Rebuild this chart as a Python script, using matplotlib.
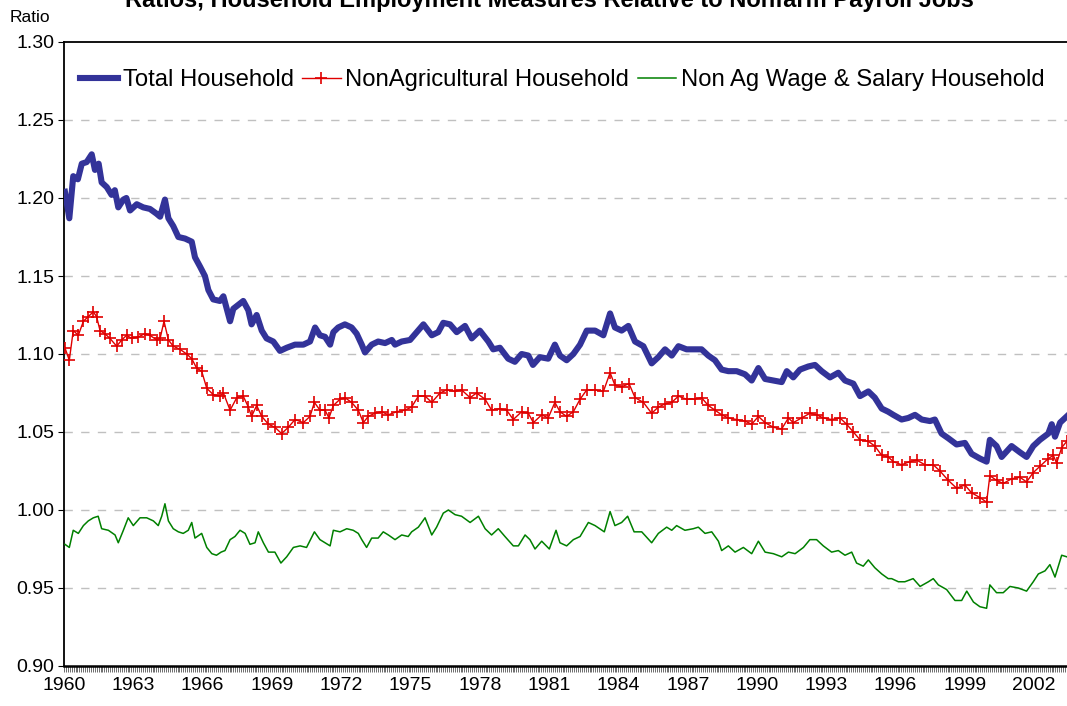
import matplotlib
matplotlib.use("Agg")
import matplotlib.pyplot as plt
from matplotlib.ticker import MultipleLocator, FixedLocator

plt.rcParams['font.family'] = ['Liberation Sans', 'DejaVu Sans']

# Total Household / Nonfarm payroll
total_dates = [1960.04, 1960.23, 1960.40, 1960.60, 1960.77, 1960.98, 1961.20, 1961.34, 1961.50, 1961.63,
               1961.85, 1962.06, 1962.20, 1962.35, 1962.57, 1962.70, 1962.86, 1963.15, 1963.43, 1963.72,
               1964.00, 1964.16, 1964.37, 1964.52, 1964.73, 1964.95, 1965.24, 1965.53, 1965.67, 1965.89,
               1966.10, 1966.25, 1966.46, 1966.75, 1966.90, 1967.19, 1967.33, 1967.76, 1967.98, 1968.12,
               1968.34, 1968.56, 1968.77, 1969.06, 1969.35, 1969.64, 1970.00, 1970.36, 1970.65, 1970.87,
               1971.08, 1971.30, 1971.52, 1971.66, 1971.87, 1972.16, 1972.45, 1972.67, 1972.89, 1973.03,
               1973.32, 1973.60, 1973.90, 1974.19, 1974.33, 1974.62, 1974.98, 1975.27, 1975.56, 1975.92,
               1976.20, 1976.42, 1976.71, 1977.00, 1977.36, 1977.65, 1978.00, 1978.37, 1978.58, 1978.87,
               1979.23, 1979.52, 1979.81, 1980.10, 1980.30, 1980.60, 1980.96, 1981.25, 1981.47, 1981.76,
               1982.05, 1982.34, 1982.63, 1982.99, 1983.35, 1983.64, 1983.85, 1984.14, 1984.43, 1984.72,
               1985.08, 1985.44, 1985.73, 1986.02, 1986.31, 1986.60, 1986.95, 1987.30, 1987.60, 1987.89,
               1988.18, 1988.47, 1988.76, 1989.12, 1989.48, 1989.77, 1990.06, 1990.35, 1990.71, 1991.07,
               1991.29, 1991.57, 1991.86, 1992.22, 1992.51, 1992.80, 1993.16, 1993.52, 1993.81, 1994.17,
               1994.46, 1994.82, 1995.10, 1995.40, 1995.68, 1995.90, 1996.26, 1996.55, 1996.84, 1997.13,
               1997.49, 1997.70, 1997.99, 1998.28, 1998.64, 1999.00, 1999.29, 1999.65, 1999.94, 2000.08,
               2000.37, 2000.59, 2001.02, 2001.38, 2001.67, 2001.96, 2002.25, 2002.61, 2002.76, 2002.90,
               2003.12, 2003.41]
total_vals = [1.204, 1.187, 1.214, 1.212, 1.222, 1.223, 1.228, 1.218, 1.222, 1.210,
              1.207, 1.202, 1.205, 1.194, 1.199, 1.200, 1.192, 1.196, 1.194, 1.193,
              1.190, 1.188, 1.199, 1.187, 1.182, 1.175, 1.174, 1.172, 1.162, 1.156,
              1.150, 1.141, 1.135, 1.134, 1.137, 1.121, 1.129, 1.134, 1.128, 1.119,
              1.125, 1.115, 1.110, 1.108, 1.102, 1.104, 1.106, 1.106, 1.108, 1.117,
              1.112, 1.111, 1.106, 1.114, 1.117, 1.119, 1.117, 1.113, 1.106, 1.101,
              1.106, 1.108, 1.107, 1.109, 1.106, 1.108, 1.109, 1.114, 1.119, 1.112,
              1.114, 1.120, 1.119, 1.114, 1.118, 1.110, 1.115, 1.108, 1.103, 1.104,
              1.097, 1.095, 1.100, 1.099, 1.093, 1.098, 1.097, 1.106, 1.099, 1.096,
              1.100, 1.106, 1.115, 1.115, 1.112, 1.126, 1.117, 1.115, 1.118, 1.108,
              1.105, 1.094, 1.098, 1.103, 1.099, 1.105, 1.103, 1.103, 1.103, 1.099,
              1.096, 1.090, 1.089, 1.089, 1.087, 1.083, 1.091, 1.084, 1.083, 1.082,
              1.089, 1.085, 1.090, 1.092, 1.093, 1.089, 1.085, 1.088, 1.083, 1.081,
              1.073, 1.076, 1.072, 1.065, 1.063, 1.061, 1.058, 1.059, 1.061, 1.058,
              1.057, 1.058, 1.049, 1.046, 1.042, 1.043, 1.036, 1.033, 1.031, 1.045,
              1.041, 1.034, 1.041, 1.037, 1.034, 1.041, 1.045, 1.049, 1.055, 1.047,
              1.056, 1.060]

# NonAgricultural Household / Nonfarm payroll
nonag_dates = [1960.04, 1960.23, 1960.40, 1960.62, 1960.84, 1961.05, 1961.27, 1961.41, 1961.56, 1961.77,
               1961.99, 1962.28, 1962.50, 1962.71, 1962.93, 1963.22, 1963.50, 1963.72, 1964.01, 1964.16,
               1964.33, 1964.52, 1964.73, 1965.02, 1965.31, 1965.53, 1965.74, 1965.96, 1966.18, 1966.46,
               1966.75, 1966.90, 1967.19, 1967.48, 1967.76, 1967.98, 1968.12, 1968.34, 1968.56, 1968.85,
               1969.13, 1969.42, 1969.71, 1970.00, 1970.36, 1970.65, 1970.84, 1971.08, 1971.30, 1971.47,
               1971.66, 1971.95, 1972.16, 1972.45, 1972.74, 1972.96, 1973.17, 1973.46, 1973.75, 1974.04,
               1974.40, 1974.76, 1975.05, 1975.34, 1975.63, 1975.92, 1976.28, 1976.57, 1976.93, 1977.21,
               1977.58, 1977.86, 1978.23, 1978.51, 1978.87, 1979.16, 1979.45, 1979.81, 1980.10, 1980.32,
               1980.68, 1980.96, 1981.25, 1981.47, 1981.76, 1982.05, 1982.34, 1982.63, 1982.99, 1983.35,
               1983.64, 1983.85, 1984.14, 1984.46, 1984.72, 1985.08, 1985.44, 1985.73, 1986.02, 1986.31,
               1986.60, 1986.95, 1987.30, 1987.60, 1987.89, 1988.18, 1988.47, 1988.76, 1989.12, 1989.48,
               1989.77, 1990.06, 1990.35, 1990.71, 1991.07, 1991.36, 1991.57, 1991.93, 1992.29, 1992.58,
               1992.87, 1993.23, 1993.59, 1993.88, 1994.17, 1994.46, 1994.82, 1995.10, 1995.40, 1995.68,
               1995.90, 1996.26, 1996.62, 1996.91, 1997.27, 1997.63, 1997.92, 1998.28, 1998.64, 1999.00,
               1999.29, 1999.65, 1999.94, 2000.08, 2000.37, 2000.66, 2001.02, 2001.38, 2001.67, 2001.96,
               2002.25, 2002.61, 2002.83, 2002.97, 2003.19, 2003.41]
nonag_vals = [1.104, 1.096, 1.115, 1.112, 1.121, 1.124, 1.127, 1.124, 1.115, 1.113,
              1.110, 1.105, 1.109, 1.112, 1.110, 1.111, 1.113, 1.112, 1.109, 1.110,
              1.121, 1.109, 1.105, 1.103, 1.100, 1.097, 1.091, 1.089, 1.078, 1.074,
              1.073, 1.075, 1.064, 1.072, 1.073, 1.066, 1.060, 1.067, 1.060, 1.055,
              1.053, 1.049, 1.053, 1.058, 1.056, 1.060, 1.069, 1.064, 1.064, 1.059,
              1.067, 1.071, 1.072, 1.069, 1.064, 1.056, 1.060, 1.062, 1.063, 1.061,
              1.063, 1.064, 1.066, 1.073, 1.073, 1.069, 1.075, 1.077, 1.076, 1.077,
              1.072, 1.075, 1.071, 1.064, 1.065, 1.064, 1.058, 1.063, 1.062, 1.056,
              1.061, 1.059, 1.069, 1.063, 1.060, 1.063, 1.071, 1.077, 1.077, 1.076,
              1.088, 1.080, 1.079, 1.081, 1.072, 1.069, 1.062, 1.066, 1.068, 1.069,
              1.073, 1.071, 1.071, 1.072, 1.067, 1.064, 1.061, 1.059, 1.058, 1.057,
              1.055, 1.060, 1.056, 1.053, 1.052, 1.059, 1.056, 1.059, 1.062, 1.061,
              1.059, 1.058, 1.059, 1.055, 1.050, 1.045, 1.044, 1.041, 1.035, 1.034,
              1.031, 1.029, 1.031, 1.032, 1.029, 1.029, 1.025, 1.019, 1.014, 1.016,
              1.011, 1.008, 1.005, 1.022, 1.019, 1.017, 1.020, 1.021, 1.018, 1.024,
              1.028, 1.033, 1.035, 1.030, 1.040, 1.044]

# Non Ag Wage & Salary Household / Nonfarm payroll
wage_dates = [1960.04, 1960.23, 1960.40, 1960.62, 1960.84, 1961.05, 1961.27, 1961.48, 1961.63, 1961.92,
              1962.21, 1962.35, 1962.57, 1962.78, 1963.00, 1963.29, 1963.58, 1963.87, 1964.08, 1964.23,
              1964.37, 1964.52, 1964.73, 1964.95, 1965.16, 1965.38, 1965.53, 1965.67, 1965.96, 1966.18,
              1966.40, 1966.60, 1966.80, 1966.97, 1967.19, 1967.40, 1967.62, 1967.84, 1968.05, 1968.27,
              1968.41, 1968.63, 1968.85, 1969.13, 1969.39, 1969.64, 1969.93, 1970.22, 1970.50, 1970.84,
              1971.08, 1971.30, 1971.52, 1971.66, 1971.95, 1972.24, 1972.52, 1972.74, 1972.89, 1973.10,
              1973.32, 1973.60, 1973.82, 1974.04, 1974.33, 1974.62, 1974.90, 1975.05, 1975.34, 1975.63,
              1975.92, 1976.13, 1976.42, 1976.64, 1976.93, 1977.21, 1977.58, 1977.94, 1978.23, 1978.51,
              1978.80, 1979.09, 1979.45, 1979.67, 1979.96, 1980.17, 1980.39, 1980.68, 1981.01, 1981.30,
              1981.47, 1981.76, 1982.05, 1982.34, 1982.70, 1982.99, 1983.39, 1983.64, 1983.85, 1984.14,
              1984.40, 1984.68, 1985.01, 1985.44, 1985.73, 1986.09, 1986.31, 1986.52, 1986.88, 1987.24,
              1987.46, 1987.75, 1988.04, 1988.33, 1988.47, 1988.76, 1989.05, 1989.41, 1989.77, 1990.06,
              1990.35, 1990.71, 1991.07, 1991.36, 1991.65, 1992.01, 1992.29, 1992.58, 1992.87, 1993.23,
              1993.52, 1993.81, 1994.10, 1994.31, 1994.60, 1994.82, 1995.10, 1995.40, 1995.68, 1995.83,
              1996.12, 1996.40, 1996.76, 1997.06, 1997.42, 1997.63, 1997.85, 1998.21, 1998.57, 1998.86,
              1999.08, 1999.37, 1999.65, 1999.94, 2000.08, 2000.37, 2000.66, 2000.95, 2001.31, 2001.67,
              2001.96, 2002.18, 2002.47, 2002.68, 2002.90, 2003.19, 2003.41]
wage_vals = [0.978, 0.976, 0.987, 0.985, 0.990, 0.993, 0.995, 0.996, 0.988, 0.987,
             0.984, 0.979, 0.987, 0.995, 0.990, 0.995, 0.995, 0.993, 0.990, 0.996,
             1.004, 0.993, 0.988, 0.986, 0.985, 0.987, 0.992, 0.982, 0.985, 0.976,
             0.972, 0.971, 0.973, 0.974, 0.981, 0.983, 0.987, 0.985, 0.978, 0.979,
             0.986, 0.979, 0.973, 0.973, 0.966, 0.970, 0.976, 0.977, 0.976, 0.986,
             0.981, 0.979, 0.977, 0.987, 0.986, 0.988, 0.987, 0.985, 0.981, 0.976,
             0.982, 0.982, 0.986, 0.984, 0.981, 0.984, 0.983, 0.986, 0.989, 0.995,
             0.984, 0.989, 0.998, 1.000, 0.997, 0.996, 0.992, 0.996, 0.988, 0.984,
             0.988, 0.983, 0.977, 0.977, 0.984, 0.981, 0.975, 0.980, 0.975, 0.987,
             0.979, 0.977, 0.981, 0.983, 0.992, 0.990, 0.986, 0.999, 0.990, 0.992,
             0.996, 0.986, 0.986, 0.979, 0.985, 0.989, 0.987, 0.990, 0.987, 0.988,
             0.989, 0.985, 0.986, 0.980, 0.974, 0.977, 0.973, 0.976, 0.972, 0.980,
             0.973, 0.972, 0.970, 0.973, 0.972, 0.976, 0.981, 0.981, 0.977, 0.973,
             0.974, 0.971, 0.973, 0.966, 0.964, 0.968, 0.963, 0.959, 0.956, 0.956,
             0.954, 0.954, 0.956, 0.951, 0.954, 0.956, 0.952, 0.949, 0.942, 0.942,
             0.948, 0.941, 0.938, 0.937, 0.952, 0.947, 0.947, 0.951, 0.950, 0.948,
             0.954, 0.959, 0.961, 0.965, 0.957, 0.971, 0.970]

year_labels = list(range(1960, 2003, 3))
y_ticks = [0.90, 0.95, 1.00, 1.05, 1.10, 1.15, 1.20, 1.25, 1.30]

fig = plt.figure(figsize=(10.67, 7.06), dpi=100)
ax = fig.add_axes([64 / 1067, 1 - 666 / 706, 1 - 64 / 1067, 624 / 706])

ax.plot(total_dates, total_vals, color='#333399', lw=4.4, solid_joinstyle='round',
        label='Total Household', zorder=3)
ax.plot(nonag_dates, nonag_vals, color='#E00000', lw=1.0, marker='+', markersize=8,
        markeredgewidth=1.2, label='NonAgricultural Household', zorder=3)
ax.plot(wage_dates, wage_vals, color='#008000', lw=1.1,
        label='Non Ag Wage & Salary Household', zorder=3)

ax.set_xlim(1960.0, 2003.42)
ax.set_ylim(0.90, 1.30)

# y axis
ax.yaxis.set_major_locator(FixedLocator(y_ticks))
ax.set_yticklabels([f"{v:.2f}" for v in y_ticks])
for v in y_ticks[1:-1]:
    ax.axhline(v, color='#C0C0C0', lw=1.0, ls=(0, (6, 6)), zorder=1)

# x axis: labels every 3 years, a tick for every month
ax.xaxis.set_major_locator(FixedLocator(year_labels))
ax.set_xticklabels([str(y) for y in year_labels])
ax.xaxis.set_minor_locator(MultipleLocator(1 / 12))

ax.tick_params(axis='both', which='major', direction='out', length=4, width=0.8,
               labelsize=14, colors='black', pad=3)
ax.tick_params(axis='x', which='minor', direction='out', length=4, width=0.5, color='#333333')
ax.tick_params(axis='x', which='major', width=0.5, color='#333333', pad=4)

for side in ['left', 'top', 'bottom']:
    ax.spines[side].set_color('black')
ax.spines['left'].set_linewidth(1.3)
ax.spines['top'].set_linewidth(1.3)
ax.spines['bottom'].set_linewidth(1.8)
ax.spines['right'].set_visible(False)

leg = ax.legend(loc='center left', bbox_to_anchor=(16 / 1003, (666 - 80) / 624), ncol=3,
                frameon=False, fontsize=17.2, handlelength=1.6, handletextpad=0.2,
                columnspacing=0.35, borderpad=0, borderaxespad=0, numpoints=1)

fig.text(549 / 1067, 1 - 1 / 706, "Ratios, Household Employment Measures Relative to Nonfarm Payroll Jobs",
         ha='center', va='center', fontsize=17, fontweight='bold')
fig.text(10 / 1067, 1 - 18 / 706, "Ratio", ha='left', va='center', fontsize=12.5)

fig.savefig("out.png", dpi=100)
